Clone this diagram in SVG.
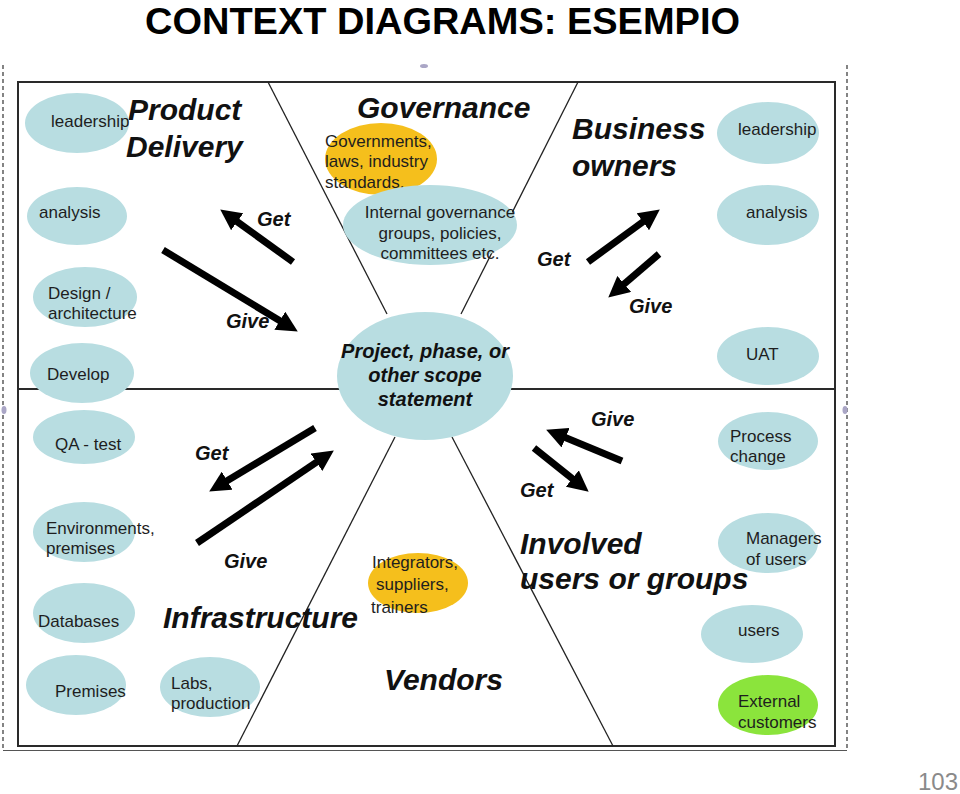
<svg xmlns="http://www.w3.org/2000/svg" width="960" height="794" viewBox="0 0 960 794">
<style>
.bg{fill:#ffffff}
.blue{fill:#b8dde1}
.orange{fill:#f5bf1c}
.green{fill:#8be43c}
.t{font-family:"Liberation Sans",Arial,sans-serif;font-size:17px;fill:#1e1e1e}
.h{font-family:"Liberation Sans",Arial,sans-serif;font-size:30px;font-weight:bold;font-style:italic;fill:#111}
.g{font-family:"Liberation Sans",Arial,sans-serif;font-size:20px;font-weight:bold;font-style:italic;fill:#111}
.c{font-family:"Liberation Sans",Arial,sans-serif;font-size:20px;font-weight:bold;font-style:italic;fill:#111;text-anchor:middle}
.div{stroke:#222;stroke-width:1.3;fill:none}
.box{stroke:#2a2a2a;stroke-width:2;fill:none}
.arr{stroke:#000;stroke-width:7;fill:none;marker-end:url(#ah)}
</style>
<defs>
<marker id="ah" markerUnits="userSpaceOnUse" viewBox="0 0 20 20" markerWidth="21" markerHeight="21" refX="1" refY="10" orient="auto">
<path d="M0,0 L20,10 L0,20 z" fill="#000"/>
</marker>
</defs>
<rect class="bg" x="0" y="0" width="960" height="794"/>

<g id="title">
<text x="145" y="34" font-family="'Liberation Sans',Arial,sans-serif" font-size="37" font-weight="bold" fill="#000" textLength="595" lengthAdjust="spacingAndGlyphs">CONTEXT DIAGRAMS: ESEMPIO</text>
</g>

<g id="frame">
<line x1="3" y1="65" x2="3" y2="750" stroke="#333" stroke-width="1.2" stroke-dasharray="4,3"/>
<line x1="847" y1="65" x2="847" y2="750" stroke="#333" stroke-width="1.2" stroke-dasharray="4,3"/>
<line x1="3" y1="750.5" x2="847" y2="750.5" stroke="#555" stroke-width="1.2"/>
<ellipse cx="424" cy="66" rx="4" ry="2" fill="#aaa6c6"/>
<ellipse cx="4" cy="410" rx="2.5" ry="4" fill="#aaa6c6"/>
<ellipse cx="845" cy="410" rx="2.5" ry="4" fill="#aaa6c6"/>
</g>

<g id="dividers">
<rect class="box" x="18" y="82" width="817" height="664"/>
<line class="box" x1="18" y1="389" x2="340" y2="389"/>
<line class="box" x1="511" y1="389" x2="835" y2="389"/>
<line class="div" x1="268" y1="82" x2="387" y2="314"/>
<line class="div" x1="578" y1="82" x2="461" y2="314"/>
<line class="div" x1="395" y1="437" x2="237" y2="746"/>
<line class="div" x1="452" y1="437" x2="613" y2="746"/>
</g>

<g id="headings">
<text class="h" x="128" y="120">Product</text>
<text class="h" x="126" y="157">Delivery</text>
<text class="h" x="357" y="118">Governance</text>
<text class="h" x="572" y="139">Business</text>
<text class="h" x="572" y="176">owners</text>
<text class="h" x="163" y="628">Infrastructure</text>
<text class="h" x="384" y="690">Vendors</text>
<text class="h" x="520" y="554">Involved</text>
<text class="h" x="520" y="589">users or groups</text>
</g>

<g id="center">
<ellipse class="blue" cx="425" cy="376" rx="88" ry="64"/>
<text class="c" x="425" y="358">Project, phase, or</text>
<text class="c" x="425" y="382">other scope</text>
<text class="c" x="425" y="406">statement</text>
</g>

<g id="pd-leadership"><ellipse class="blue" cx="77" cy="123" rx="52" ry="30"/><text class="t" x="51" y="127">leadership</text></g>
<g id="pd-analysis"><ellipse class="blue" cx="77" cy="216" rx="50" ry="29"/><text class="t" x="39" y="218">analysis</text></g>
<g id="pd-design"><ellipse class="blue" cx="85" cy="297" rx="52" ry="30"/><text class="t" x="48" y="299">Design /</text><text class="t" x="48" y="319">architecture</text></g>
<g id="pd-develop"><ellipse class="blue" cx="82" cy="373" rx="52" ry="30"/><text class="t" x="47" y="380">Develop</text></g>

<g id="inf-qa"><ellipse class="blue" cx="84" cy="437" rx="51" ry="27"/><text class="t" x="55" y="450">QA - test</text></g>
<g id="inf-env"><ellipse class="blue" cx="84" cy="532" rx="51" ry="30"/><text class="t" x="46" y="534">Environments,</text><text class="t" x="46" y="554">premises</text></g>
<g id="inf-db"><ellipse class="blue" cx="84" cy="613" rx="51" ry="30"/><text class="t" x="38" y="627">Databases</text></g>
<g id="inf-prem"><ellipse class="blue" cx="76" cy="685" rx="50" ry="30"/><text class="t" x="55" y="697">Premises</text></g>
<g id="inf-labs"><ellipse class="blue" cx="210" cy="687" rx="50" ry="30"/><text class="t" x="171" y="689">Labs,</text><text class="t" x="171" y="709">production</text></g>

<g id="gov-governments"><ellipse class="orange" cx="381" cy="159" rx="56" ry="36"/><text class="t" x="325" y="147">Governments,</text><text class="t" x="325" y="167">laws, industry</text><text class="t" x="325" y="188">standards.</text></g>
<g id="gov-internal"><ellipse class="blue" cx="430" cy="225" rx="87" ry="40"/><text class="t" x="440" y="218" text-anchor="middle">Internal governance</text><text class="t" x="440" y="239" text-anchor="middle">groups, policies,</text><text class="t" x="440" y="259" text-anchor="middle">committees etc.</text></g>

<g id="bo-leadership"><ellipse class="blue" cx="768" cy="133" rx="51" ry="31"/><text class="t" x="738" y="135">leadership</text></g>
<g id="bo-analysis"><ellipse class="blue" cx="768" cy="215" rx="51" ry="30"/><text class="t" x="746" y="218">analysis</text></g>
<g id="bo-uat"><ellipse class="blue" cx="768" cy="356" rx="51" ry="29"/><text class="t" x="746" y="360">UAT</text></g>

<g id="inv-process"><ellipse class="blue" cx="768" cy="441" rx="50" ry="29"/><text class="t" x="730" y="442">Process</text><text class="t" x="730" y="462">change</text></g>
<g id="inv-managers"><ellipse class="blue" cx="768" cy="543" rx="50" ry="30"/><text class="t" x="746" y="544">Managers</text><text class="t" x="746" y="565">of users</text></g>
<g id="inv-users"><ellipse class="blue" cx="752" cy="634" rx="51" ry="29"/><text class="t" x="738" y="636">users</text></g>
<g id="inv-external"><ellipse class="green" cx="768" cy="705" rx="50" ry="30"/><text class="t" x="738" y="707">External</text><text class="t" x="738" y="728">customers</text></g>

<g id="ven-integrators"><ellipse class="orange" cx="418" cy="583" rx="50" ry="30"/><text class="t" x="372" y="568">Integrators,</text><text class="t" x="376" y="590">suppliers,</text><text class="t" x="371" y="613">trainers</text></g>

<g id="connectors">
<line class="arr" x1="293" y1="262" x2="236.4" y2="221.1"/>
<line class="arr" x1="163" y1="250" x2="280.7" y2="321.2"/>
<line class="arr" x1="588" y1="262" x2="643.7" y2="221.2"/>
<line class="arr" x1="659" y1="254" x2="623.4" y2="284.6"/>
<line class="arr" x1="315" y1="428" x2="226.3" y2="481.2"/>
<line class="arr" x1="197" y1="543" x2="317.3" y2="461.6"/>
<line class="arr" x1="622" y1="461" x2="564.6" y2="437.3"/>
<line class="arr" x1="534" y1="448" x2="573.1" y2="479.2"/>
<text class="g" x="257" y="226">Get</text>
<text class="g" x="226" y="328">Give</text>
<text class="g" x="537" y="266">Get</text>
<text class="g" x="629" y="313">Give</text>
<text class="g" x="195" y="460">Get</text>
<text class="g" x="224" y="568">Give</text>
<text class="g" x="591" y="426">Give</text>
<text class="g" x="520" y="497">Get</text>
</g>

<g id="page-number">
<text x="958" y="790" text-anchor="end" font-family="'Liberation Sans',Arial,sans-serif" font-size="24" fill="#8a8a8a">103</text>
</g>
</svg>
